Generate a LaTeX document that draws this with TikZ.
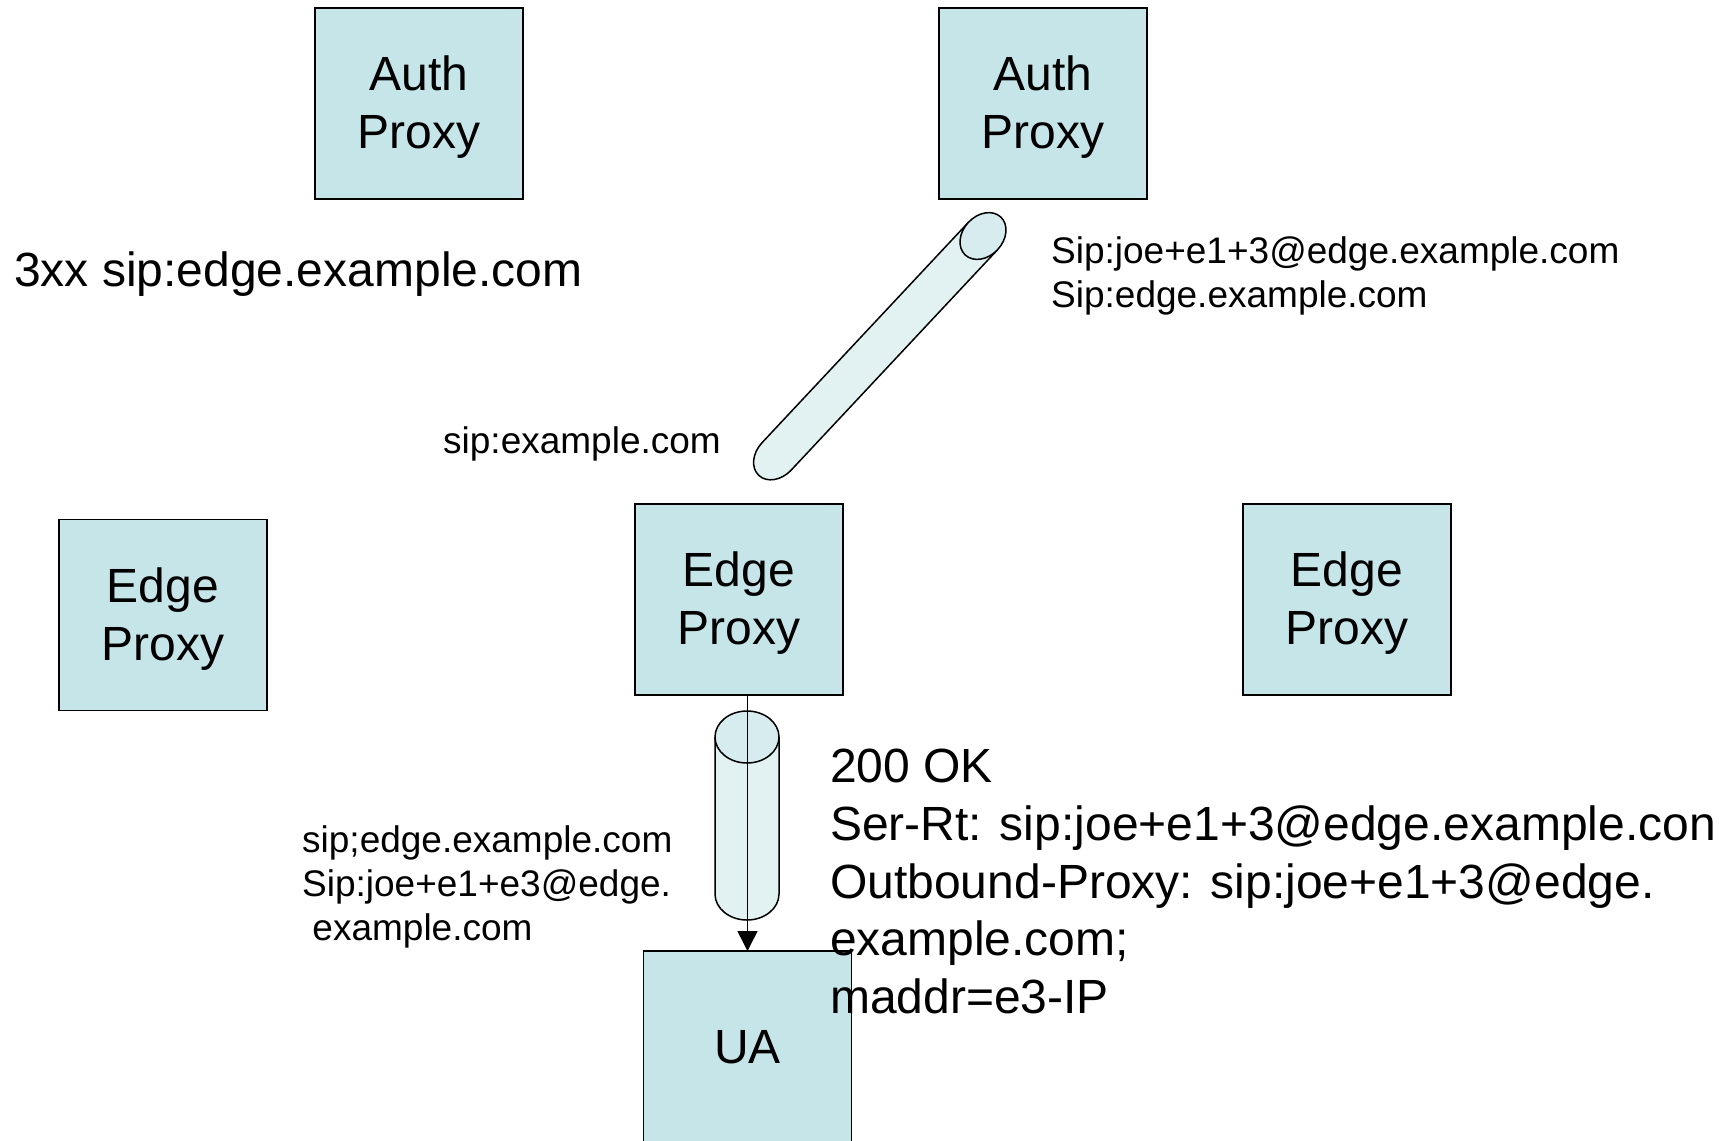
\documentclass[tikz,border=0pt]{standalone}
\usepackage{fontspec}
\setmainfont{Liberation Sans}
\usetikzlibrary{arrows.meta}
\definecolor{boxfill}{RGB}{198,229,232}
\definecolor{tubebody}{RGB}{226,242,243}
\definecolor{tubecap}{RGB}{214,236,238}
\begin{document}
\begin{tikzpicture}[x=1pt,y=-1pt,
  proxybox/.style={draw=black, line width=1.5pt, fill=boxfill, minimum width=208pt, minimum height=191pt, inner sep=0pt, outer sep=0pt},
  boxtext/.style={align=center, font=\fontsize{48}{58}\selectfont, inner sep=0pt},
  bigtext/.style={anchor=base west, inner sep=0pt, font=\fontsize{48}{58}\selectfont},
  smalltext/.style={anchor=base west, inner sep=0pt, font=\fontsize{37}{44}\selectfont},
  tubeline/.style={draw=black, line width=1.5pt},
]
\useasboundingbox (0,0) rectangle (1733,1141);

% boxes
\node[proxybox] (a1) at (419,103.5) {};
\node[proxybox] (a2) at (1043,103.5) {};
\node[proxybox] (e1) at (163,615) {};
\node[proxybox] (e2) at (739,599.5) {};
\node[proxybox] (e3) at (1347,599.5) {};
\node[proxybox, minimum height=195pt] (ua) at (747.5,1048.5) {};

\node[boxtext] (a1t) at ([yshift=-4pt]a1.center) {Auth\\Proxy};
\node[boxtext] (a2t) at ([yshift=-4pt]a2.center) {Auth\\Proxy};
\node[boxtext] (e1t) at ([yshift=-4pt]e1.center) {Edge\\Proxy};
\node[boxtext] (e2t) at ([yshift=-4pt]e2.center) {Edge\\Proxy};
\node[boxtext] (e3t) at ([yshift=-4pt]e3.center) {Edge\\Proxy};
\node[boxtext] (uat) at (747.5,1047) {UA};

% diagonal tube
\begin{scope}[shift={(983,236)}, rotate=226.88]
  \fill[tubebody] (0pt,20pt) -- (302pt,20pt) arc[start angle=90, end angle=-90, x radius=26pt, y radius=20pt] -- (0pt,-20pt) -- cycle;
  \draw[tubeline] (0pt,20pt) -- (302pt,20pt) arc[start angle=90, end angle=-90, x radius=26pt, y radius=20pt] -- (0pt,-20pt);
  \draw[tubeline, fill=tubecap] (0pt,0pt) ellipse[x radius=26pt, y radius=20pt];
\end{scope}

% vertical tube
\fill[tubebody] (715,737) -- (715,894) arc[start angle=180, end angle=360, x radius=32pt, y radius=26pt] -- (779,737) -- cycle;
\draw[tubeline] (715,737) -- (715,894) arc[start angle=180, end angle=360, x radius=32pt, y radius=26pt] -- (779,737);
\draw[tubeline, fill=tubecap] (747,737) ellipse[x radius=32pt, y radius=26pt];

% arrow
\draw[line width=1.5pt, -{Triangle[length=20pt,width=20pt]}] (e2.south -| ua.north) -- (ua.north);

% texts
\node[bigtext] (t3xx) at (14,286) {3xx sip:edge.example.com};
\node[smalltext] (ta1) at (1051,263) {Sip:joe+e1+3@edge.example.com};
\node[smalltext] (ta2) at (1051,307) {Sip:edge.example.com};
\node[smalltext] (tb) at (443,453) {sip:example.com};
\node[smalltext] (tc1) at (302,852) {sip;edge.example.com};
\node[smalltext] (tc2) at (302,896) {Sip:joe+e1+e3@edge.};
\node[smalltext] (tc3) at (302,940) {\ example.com};
\node[bigtext] (td1) at (830,782) {200 OK};
\node[bigtext] (td2) at (830,840) {Ser-Rt: sip:joe+e1+3@edge.example.con};
\node[bigtext] (td3) at (830,898) {Outbound-Proxy: sip:joe+e1+3@edge.};
\node[bigtext] (td4) at (830,955) {example.com;};
\node[bigtext] (td5) at (830,1013) {maddr=e3-IP};
\end{tikzpicture}
\end{document}
